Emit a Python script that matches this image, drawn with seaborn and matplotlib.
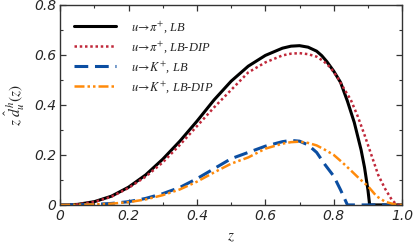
import numpy as np
import pandas as pd
import matplotlib
matplotlib.use('Agg')
import matplotlib.pyplot as plt
import seaborn as sns

# curvas
z_pi_lb = [0, 0.05, 0.1, 0.15, 0.2, 0.25, 0.3, 0.35, 0.4, 0.45, 0.5, 0.55, 0.6, 0.65, 0.675, 0.7,
           0.725, 0.75, 0.765, 0.78, 0.8, 0.82, 0.84, 0.86, 0.88, 0.89, 0.9, 0.905, 1.0]
d_pi_lb = [0, 0.002, 0.013, 0.035, 0.071, 0.12, 0.183, 0.255, 0.335, 0.42, 0.495, 0.555, 0.598, 0.627, 0.635, 0.637,
           0.631, 0.615, 0.597, 0.573, 0.535, 0.49, 0.415, 0.33, 0.22, 0.15, 0.06, 0, 0]

z_pi_dip = [0, 0.05, 0.1, 0.15, 0.2, 0.25, 0.3, 0.35, 0.4, 0.45, 0.5, 0.55, 0.6, 0.65, 0.675, 0.7,
            0.725, 0.75, 0.77, 0.79, 0.81, 0.83, 0.85, 0.87, 0.89, 0.91, 0.93, 0.95, 0.97, 0.985, 1.0]
d_pi_dip = [0, 0.002, 0.012, 0.033, 0.068, 0.113, 0.17, 0.24, 0.315, 0.39, 0.46, 0.53, 0.57, 0.598, 0.605, 0.607,
            0.603, 0.593, 0.575, 0.55, 0.512, 0.465, 0.42, 0.355, 0.28, 0.20, 0.12, 0.065, 0.02, 0, 0]

z_k_lb = [0, 0.1, 0.15, 0.2, 0.25, 0.3, 0.35, 0.4, 0.45, 0.5, 0.55, 0.6, 0.65, 0.675, 0.7,
          0.725, 0.75, 0.775, 0.8, 0.82, 0.84, 1.0]
d_k_lb = [0, 0.002, 0.006, 0.013, 0.026, 0.045, 0.07, 0.105, 0.145, 0.185, 0.21, 0.235, 0.253, 0.258, 0.255,
          0.24, 0.21, 0.16, 0.115, 0.06, 0, 0]

z_k_dip = [0, 0.1, 0.15, 0.2, 0.25, 0.3, 0.35, 0.4, 0.45, 0.5, 0.55, 0.6, 0.65, 0.675, 0.7,
           0.725, 0.75, 0.775, 0.8, 0.825, 0.85, 0.875, 0.9, 0.925, 0.95, 0.975, 0.99, 1.0]
d_k_dip = [0, 0.002, 0.005, 0.011, 0.022, 0.039, 0.062, 0.093, 0.13, 0.165, 0.19, 0.225, 0.245, 0.251, 0.253,
           0.248, 0.238, 0.22, 0.20, 0.17, 0.138, 0.105, 0.075, 0.035, 0.013, 0.003, 0, 0]

labels = [r'$u\!\rightarrow\!\pi^{+}$, LB', r'$u\!\rightarrow\!\pi^{+}$, LB-DIP',
          r'$u\!\rightarrow\!K^{+}$, LB', r'$u\!\rightarrow\!K^{+}$, LB-DIP']
x_ticks = [0, 0.2, 0.4, 0.6, 0.8, 1.0]
x_ticklabels = ['0', '0.2', '0.4', '0.6', '0.8', '1.0']
y_ticks = [0, 0.2, 0.4, 0.6, 0.8]
y_ticklabels = ['0', '0.2', '0.4', '0.6', '0.8']

sns.set_style('ticks')
plt.rcParams['mathtext.fontset'] = 'stix'
plt.rcParams['font.family'] = ['DejaVu Sans']

series = [
    (z_pi_lb, d_pi_lb, 'black', '-', 2.2),
    (z_pi_dip, d_pi_dip, '#c0283a', (0, (1, 1.1)), 1.8),
    (z_k_lb, d_k_lb, '#0b4ea2', (0, (4.5, 2.2)), 2.2),
    (z_k_dip, d_k_dip, '#ff8a0a', (0, (4, 1.2, 1, 1.2, 1, 1.2)), 1.8),
]

fig, ax = plt.subplots(figsize=(4.15, 2.46), dpi=100)
fig.subplots_adjust(left=0.145, right=0.969, bottom=0.167, top=0.98)

for (zz, dd, cor, ls, lw), lab in zip(series, labels):
    df = pd.DataFrame({'z': zz, 'd': dd})
    sns.lineplot(data=df, x='z', y='d', color=cor, linestyle=ls, linewidth=lw,
                 label=lab, ax=ax, estimator=None, sort=False)

ax.set_xlim(0, 1.0)
ax.set_ylim(0, 0.8)
ax.set_xticks(x_ticks)
ax.set_xticklabels(x_ticklabels, fontsize=10, style='italic')
ax.set_yticks(y_ticks)
ax.set_yticklabels(y_ticklabels, fontsize=10, style='italic')
ax.set_xticks(np.arange(0.1, 1.0, 0.2), minor=True)
ax.set_yticks(np.arange(0.1, 0.8, 0.2), minor=True)
ax.tick_params(which='both', direction='in', top=True, right=True, color='#333333', pad=3)
ax.tick_params(which='major', length=4.5, width=0.9)
ax.tick_params(which='minor', length=2.5, width=0.8)
for s in ax.spines.values():
    s.set_linewidth(1.0)
    s.set_color('#333333')

ax.set_xlabel(r'$z$', fontsize=11, labelpad=4)
ax.set_ylabel(r'$z\;\hat{d}_{u}^{\,h}(z)$', fontsize=11, labelpad=5)

leg = ax.legend(loc='upper left', frameon=False, handlelength=3.4, handletextpad=1.2,
                labelspacing=0.33, borderaxespad=0.7,
                prop={'family': 'Liberation Serif', 'style': 'italic', 'size': 9})

plt.savefig('out.png', dpi=100)
